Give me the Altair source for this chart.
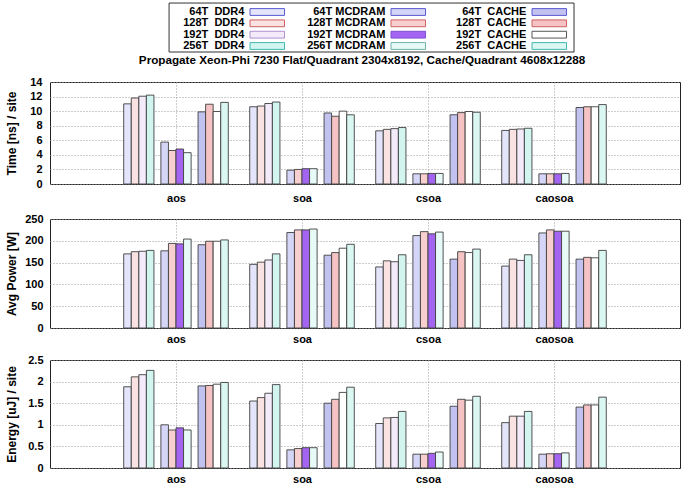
import json
import altair as alt
import pandas as pd

categories = ["aos", "soa", "csoa", "caosoa"]
memories = ["DDR4", "MCDRAM", "CACHE"]
threads = ["64T", "128T", "192T", "256T"]

# Time per lattice site [ns]: one row per category (aos, soa, csoa, caosoa),
# one value per thread count (64T, 128T, 192T, 256T)
time_ddr4 = [[11.0, 11.8, 12.05, 12.2], [10.6, 10.7, 11.05, 11.25],
             [7.3, 7.5, 7.6, 7.75], [7.35, 7.5, 7.55, 7.65]]
time_mcdram = [[5.75, 4.6, 4.8, 4.3], [1.9, 2.0, 2.1, 2.1],
               [1.4, 1.4, 1.45, 1.45], [1.4, 1.4, 1.4, 1.45]]
time_cache = [[9.9, 10.95, 9.95, 11.2], [9.75, 9.3, 10.0, 9.5],
              [9.5, 9.8, 9.95, 9.85], [10.5, 10.6, 10.6, 10.9]]

# Average power [W]
power_ddr4 = [[170, 175, 176, 178], [146, 151, 156, 170],
              [140, 154, 152, 168], [142, 158, 155, 168]]
power_mcdram = [[177, 194, 193, 204], [219, 225, 225, 227],
                [212, 221, 216, 220], [218, 225, 222, 222]]
power_cache = [[191, 199, 199, 202], [167, 173, 183, 192],
               [158, 175, 173, 181], [158, 162, 161, 178]]

# Energy per lattice site [uJ]
energy_ddr4 = [[1.88, 2.11, 2.16, 2.26], [1.55, 1.63, 1.73, 1.93],
               [1.03, 1.16, 1.17, 1.31], [1.05, 1.20, 1.20, 1.31]]
energy_mcdram = [[1.00, 0.88, 0.93, 0.88], [0.42, 0.45, 0.47, 0.47],
                 [0.32, 0.32, 0.34, 0.37], [0.32, 0.33, 0.33, 0.35]]
energy_cache = [[1.90, 1.91, 1.94, 1.98], [1.50, 1.59, 1.75, 1.87],
                [1.43, 1.59, 1.57, 1.66], [1.41, 1.46, 1.46, 1.64]]

title_text = "Propagate Xeon-Phi 7230 Flat/Quadrant 2304x8192, Cache/Quadrant 4608x12288"

FONT = "Liberation Sans"
PANEL_W = 630

# Bar styling: fill tones per memory mode and thread count
fill_style = {
    "DDR4": ["#e4e4fa", "#fae2e2", "#f3eafa", "#d2f5f0"],
    "MCDRAM": ["#d5d5f7", "#f8cfcf", "#a464f2", "#e8faf7"],
    "CACHE": ["#c2c2f1", "#f5c3c3", "#ffffff", "#dbf7f2"],
}
edge_style = {
    "DDR4": ["#5a5ad0", "#d06060", "#b090d0", "#40b8b0"],
    "MCDRAM": ["#5a5ad0", "#d06060", "#8050d0", "#70b0a8"],
    "CACHE": ["#5a5ad0", "#d06060", "#555555", "#40b8b0"],
}
BAR_W = 0.06        # bar width in category units
GROUP_STEP = 0.295  # distance between the DDR4 / MCDRAM / CACHE groups


def bars_table(series):
    rows = []
    for ci, cat in enumerate(categories):
        for gi, mem in enumerate(memories):
            for ti, thr in enumerate(threads):
                centre = ci + 1 + (gi - 1) * GROUP_STEP + (ti - 1.5) * BAR_W
                rows.append(dict(category=cat, memory=mem, threads=thr,
                                 value=series[mem][ci][ti],
                                 x0=centre - BAR_W / 2, x1=centre + BAR_W / 2,
                                 fill=fill_style[mem][ti]))
    return pd.DataFrame(rows)


label_expr = json.dumps([""] + categories) + "[datum.value]"


def panel(df, y_title, y_max, y_step, height, x_pad, y_pad):
    n = int(round(y_max / y_step))
    y_ticks = [round(i * y_step, 6) for i in range(n + 1)]
    x = alt.X("x0:Q",
              scale=alt.Scale(domain=[0, 5], nice=False, zero=False),
              axis=alt.Axis(values=[1, 2, 3, 4], labelExpr=label_expr, title=None,
                            grid=True, gridDash=[1, 2], gridColor="#9a9a9a",
                            ticks=False, domain=False, labelPadding=x_pad,
                            labelFontSize=11))
    y = alt.Y("value:Q",
              scale=alt.Scale(domain=[0, y_max], nice=False),
              axis=alt.Axis(values=y_ticks, format="~r", title=y_title,
                            grid=True, gridDash=[1, 2], gridColor="#9a9a9a",
                            ticks=False, domain=False, labelPadding=y_pad,
                            labelFontSize=11, titleFontSize=12, titleX=-32))
    return alt.Chart(df).mark_rect(stroke="#404040", strokeWidth=0.9).encode(
        x=x, x2="x1:Q", y=y, y2=alt.datum(0),
        fill=alt.Fill("fill:N", scale=None),
        tooltip=["category:N", "memory:N", "threads:N", "value:Q"],
    ).properties(width=PANEL_W, height=height)


time_chart = panel(bars_table({"DDR4": time_ddr4, "MCDRAM": time_mcdram, "CACHE": time_cache}),
                   "Time [ns] / site", 14, 2, 102, 8, 8)
power_chart = panel(bars_table({"DDR4": power_ddr4, "MCDRAM": power_mcdram, "CACHE": power_cache}),
                    "Avg Power [W]", 250, 50, 109, 5, 7)
energy_chart = panel(bars_table({"DDR4": energy_ddr4, "MCDRAM": energy_mcdram, "CACHE": energy_cache}),
                     "Energy [uJ] / site", 2.5, 0.5, 108, 5, 7)

# Key: three columns (memory mode) by four rows (thread count)
NBSP = "\u00a0"
legend_rows = []
for gi, mem in enumerate(memories):
    gap = NBSP if mem == "MCDRAM" else NBSP * 2
    for ti, thr in enumerate(threads):
        legend_rows.append(dict(label=thr + gap + mem, col=gi, row=ti,
                                sx0=gi, sx1=gi + 0.245, tx=gi - 0.04,
                                sy0=ti - 0.3, sy1=ti + 0.3,
                                fill=fill_style[mem][ti], edge=edge_style[mem][ti]))
legend_df = pd.DataFrame(legend_rows)
frame_df = pd.DataFrame([dict(x0=-0.574, x1=2.298, y0=-0.79, y1=3.53)])

lx = alt.Scale(domain=[0, 3], range=[200, 623])
ly = alt.Scale(domain=[0, 3], range=[9, 43])

legend_frame = alt.Chart(frame_df).mark_rect(fill="transparent", stroke="#333333", strokeWidth=1).encode(
    x=alt.X("x0:Q", scale=lx, axis=None), x2="x1:Q",
    y=alt.Y("y0:Q", scale=ly, axis=None), y2="y1:Q")
legend_swatch = alt.Chart(legend_df).mark_rect(strokeWidth=1).encode(
    x=alt.X("sx0:Q", scale=lx, axis=None), x2="sx1:Q",
    y=alt.Y("sy0:Q", scale=ly, axis=None), y2="sy1:Q",
    fill=alt.Fill("fill:N", scale=None), stroke=alt.Stroke("edge:N", scale=None))
legend_text = alt.Chart(legend_df).mark_text(align="right", baseline="middle", fontSize=11,
                                             fontWeight="bold", font=FONT, color="black").encode(
    x=alt.X("tx:Q", scale=lx, axis=None),
    y=alt.Y("row:Q", scale=ly, axis=None),
    text="label:N")

legend = alt.layer(legend_frame, legend_swatch, legend_text).properties(
    width=PANEL_W, height=49,
    view=alt.ViewBackground(strokeWidth=0),
    title=alt.TitleParams(title_text, orient="bottom", anchor="middle", dx=-3, offset=2,
                          fontSize=11.7, fontWeight="bold", font=FONT, color="black"),
)

chart = alt.ConcatChart(
    concat=[legend, time_chart, power_chart, energy_chart],
    columns=1, spacing=8, align="none",
    padding={"left": 4, "top": 2, "right": 2, "bottom": 2},
).configure_axis(
    labelFont=FONT, titleFont=FONT, labelFontWeight="bold", titleFontWeight="bold",
    labelColor="black", titleColor="black",
).configure_view(
    stroke="#222222", strokeWidth=1,
)

chart.save("out.html", embed_options={"renderer": "svg", "actions": False})
